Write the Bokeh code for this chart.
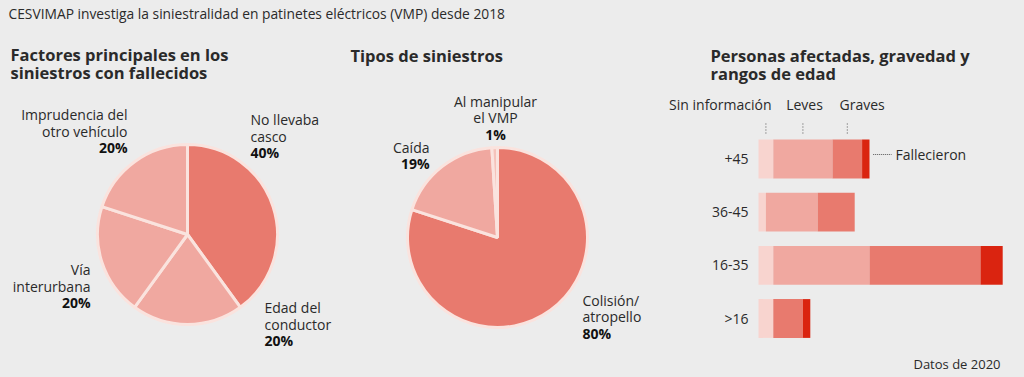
import numpy as np
from bokeh.plotting import figure
from bokeh.layouts import row
from bokeh.models import Range1d, ColumnDataSource, GlobalInlineStyleSheet
from bokeh.core.properties import value
from bokeh.embed import file_html
from bokeh.resources import INLINE

# ---------------- data ----------------
TITLE = "CESVIMAP investiga la siniestralidad en patinetes eléctricos (VMP) desde 2018"

pie1_title = ["Factores principales en los", "siniestros con fallecidos"]
factores_labels = [["No llevaba", "casco"], ["Edad del", "conductor"],
                   ["Vía", "interurbana"], ["Imprudencia del", "otro vehículo"]]
factores_values = [40, 20, 20, 20]

pie2_title = ["Tipos de siniestros"]
tipos_labels = [["Colisión/", "atropello"], ["Caída"], ["Al manipular", "el VMP"]]
tipos_values = [80, 19, 1]

bar_title = ["Personas afectadas, gravedad y", "rangos de edad"]
edades = ["+45", "36-45", "16-35", ">16"]
series_names = ["Sin información", "Leves", "Graves", "Fallecieron"]
sin_info = [2, 1, 2, 2]
leves = [8, 7, 13, 0]
graves = [4, 5, 15, 4]
fallecieron = [1, 0, 3, 1]
nota = "Datos de 2020"

# ---------------- style ----------------
FONT = "Open Sans"
BG = "#ececec"
DARK = "#e87a6e"
MID = "#f0a8a0"
LIGHT = "#f8d4cf"
PALE = "#f5c2ba"
RED = "#da2410"
SEP = "#fae3de"
TXT = "#2a2a2a"
W, H = 1024, 377
SPLIT = 648


def txt(p, x, y, s, size, align="left", bold=False, color=TXT):
    p.text(x=[x], y=[y], text=[s], text_font=value(FONT),
           text_font_size=f"{size}px", text_align=align, text_baseline="middle",
           text_color=color, text_font_style="bold" if bold else "normal")


def style(p):
    p.axis.visible = False
    p.grid.visible = False
    p.outline_line_color = None
    p.background_fill_color = BG
    p.border_fill_color = BG


def pie(p, cx, cy, r, vals, colors):
    v = np.array(vals, float)
    frac = v / v.sum()
    cum = np.concatenate([[0.0], np.cumsum(frac)])
    start = np.pi / 2 - 2 * np.pi * cum[1:]
    end = np.pi / 2 - 2 * np.pi * cum[:-1]
    p.wedge(x=cx, y=cy, radius=r, start_angle=start, end_angle=end,
            fill_color=colors, line_color=SEP, line_width=3)


# ---------------- left figure (pies), data coords = page pixels (x, -y) ----------------
left = figure(width=SPLIT, height=H, x_range=Range1d(0, SPLIT), y_range=Range1d(-H, 0),
              output_backend="svg", toolbar_location=None, min_border=0)
style(left)
left.stylesheets = [GlobalInlineStyleSheet(css="body{background-color:#ececec;}")]

txt(left, 8, -13, TITLE, 13.8)

for i, line in enumerate(pie1_title):
    txt(left, 10, -(54 + 18 * i), line, 16.5, bold=True)
for i, line in enumerate(pie2_title):
    txt(left, 350, -(55 + 18 * i), line, 16.5, bold=True)

pie(left, 187, -234, 90, factores_values, [DARK, MID, MID, MID])
pie(left, 497, -237, 90, tipos_values, [DARK, MID, PALE])

# label blocks: (x, first line y, align)
pie1_pos = [(250, 119, "left"), (264, 307, "left"), (90, 269, "right"), (127, 114, "right")]
for lab, val, (x, y0, al) in zip(factores_labels, factores_values, pie1_pos):
    for j, line in enumerate(lab):
        txt(left, x, -(y0 + 16.5 * j), line, 14, align=al)
    txt(left, x, -(y0 + 16.5 * len(lab)), f"{val}%", 14, align=al, bold=True, color="#111111")

pie2_pos = [(582, 300, "left"), (429, 147, "right"), (495, 101, "center")]
for lab, val, (x, y0, al) in zip(tipos_labels, tipos_values, pie2_pos):
    for j, line in enumerate(lab):
        txt(left, x, -(y0 + 16.3 * j), line, 14, align=al)
    txt(left, x, -(y0 + 16.3 * len(lab)), f"{val}%", 14, align=al, bold=True, color="#111111")

# ---------------- bar figure ----------------
PX = 7.4        # pixels per person
ROW = 53.17     # pixels between rows
X0, Y0 = 758, 318   # page pixel of value 0 / bottom row centre


def bx(X):
    return (X - X0) / PX


def by(Y):
    return (Y0 - Y) / ROW


bar = figure(width=W - SPLIT, height=H, x_range=Range1d(bx(SPLIT), bx(W)),
             y_range=Range1d(by(H), by(0)),
             output_backend="svg", toolbar_location=None, min_border=0)
style(bar)

ypos = list(range(len(edades) - 1, -1, -1))
src = ColumnDataSource(dict(y=ypos, sin=sin_info, leves=leves, graves=graves, fall=fallecieron))
bar.hbar_stack(["sin", "leves", "graves", "fall"], y="y", height=0.73,
               color=[LIGHT, MID, DARK, RED], line_width=0, source=src)

for i, line in enumerate(bar_title):
    txt(bar, bx(710), by(55 + 18 * i), line, 16.5, bold=True)

for e, y in zip(edades, ypos):
    txt(bar, bx(748), y, e, 14, align="right")

# series labels with dotted leaders at the top row segments
mids = [sin_info[0] / 2, sin_info[0] + leves[0] / 2, sin_info[0] + leves[0] + graves[0] / 2]
label_pos = [(771, "right"), (804, "center"), (839, "left")]
for name, m, (X, al) in zip(series_names[:3], mids, label_pos):
    txt(bar, bx(X), by(104), name, 14, align=al)
    bar.line(x=[m, m], y=[by(123), by(135)], line_color="#555555", line_width=1, line_dash="1 2")

tot0 = sin_info[0] + leves[0] + graves[0] + fallecieron[0]
bar.line(x=[tot0 + 0.5, tot0 + 3], y=[by(154), by(154)], line_color="#555555",
         line_width=1, line_dash="1 1")
txt(bar, tot0 + 3.5, by(154), series_names[3], 14)

txt(bar, bx(1000), by(363), nota, 13, align="right")

layout = row(left, bar)
open("out.html", "w").write(file_html(layout, INLINE))
